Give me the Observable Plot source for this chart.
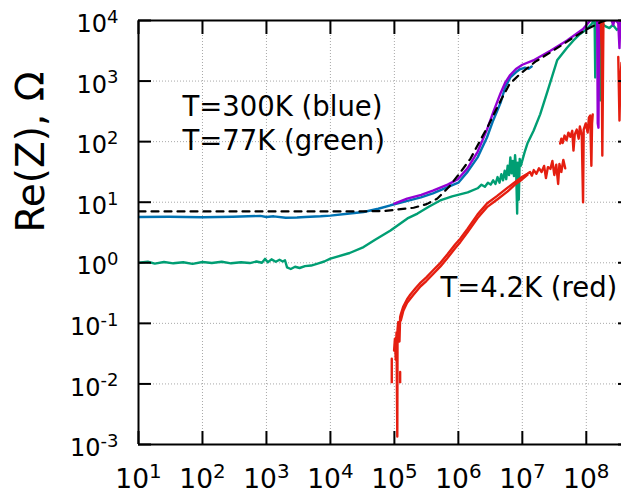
<!DOCTYPE html>
<html><head><meta charset="utf-8">
<script src="https://cdn.jsdelivr.net/npm/d3@7"></script>
<script src="https://cdn.jsdelivr.net/npm/@observablehq/plot@0.6"></script>
<style>html,body{margin:0;padding:0;overflow:hidden;background:#fff}</style>
</head><body><div id="chart"></div>
<script>
// ---- axis ticks & labels ----
const xTicks = [1e1, 1e2, 1e3, 1e4, 1e5, 1e6, 1e7, 1e8];
const xTickLabels = ["10^1", "10^2", "10^3", "10^4", "10^5", "10^6", "10^7", "10^8"];
const yTicks = [1e-3, 1e-2, 1e-1, 1e0, 1e1, 1e2, 1e3, 1e4];
const yTickLabels = ["10^-3", "10^-2", "10^-1", "10^0", "10^1", "10^2", "10^3", "10^4"];
const yTitle = "Re(Z), Ω";

// ---- annotations ----
const noteText = ["T=300K (blue)", "T=77K (green)", "T=4.2K (red)"];
const noteF = [48.7, 48.7, 5.25e5];
const noteR = [270, 71.6, 0.269];

// ---- T=300K (blue) ----
const blueF = [10, 30, 100, 300, 800, 1000, 1300, 2000, 3000, 4000, 7000, 1e4, 2e4, 3.3e4, 5.6e4, 8.7e4, 1.6e5, 2.6e5, 4e5, 6.8e5, 1e6, 1.4e6, 2e6, 2.8e6, 3.5e6, 4.6e6, 5.4e6, 6.5e6, 8e6, 9.3e6, 1.1e7, 1.25e7, 1.4e7];
const blueR = [5.7, 5.75, 5.65, 5.75, 5.95, 5.7, 5.85, 5.55, 5.6, 5.7, 5.85, 6.0, 6.5, 6.9, 7.8, 8.9, 10.5, 12, 14, 17.8, 21, 32, 55, 117, 224, 447, 794, 1150, 1410, 1580, 1660, 1600, 1740];

// ---- second room-temperature run (purple) ----
const purpleF = [1e5, 1.58e5, 2.63e5, 4e5, 6.8e5, 9.8e5, 1.38e6, 2e6, 2.8e6, 3.55e6, 4.57e6, 5.37e6, 6.46e6, 7.94e6, 1e7, 1.48e7, 2.75e7, 5e7, 8.9e7, 1.15e8, 1.26e8, 1.48e8, 1.51e8, 1.55e8, 1.58e8, 1.78e8, 2e8, 2.4e8, 2.63e8, 2.8e8, 3.16e8, 3.3e8, 3.4e8, 3.6e8];
const purpleR = [9.5, 11.5, 13.2, 15.5, 19.5, 24, 36, 68, 158, 316, 631, 933, 1260, 1585, 1860, 2190, 3160, 4680, 7240, 1e4, 1.1e4, 1.05e4, 200, 170, 9000, 1.2e4, 1.05e4, 1.1e4, 8500, 1.05e4, 9000, 3500, 9500, 1.1e4];

// ---- T=77K (green) ----
const greenF = [10, 14, 18, 25, 35, 50, 70, 100, 140, 200, 280, 400, 550, 700, 850, 950, 1050, 1200, 1400, 1600, 1800, 1950, 2100, 2400, 2800, 3300, 4000, 5000, 6500, 8000, 1e4, 2e4, 3.3e4, 5e4, 8.7e4, 1.6e5, 2.3e5, 3.5e5, 5.2e5, 8e5, 1.4e6, 2e6, 2.3e6, 2.6e6, 2.9e6, 3.2e6, 3.5e6, 3.8e6, 4.1e6, 4.4e6, 4.7e6, 5e6, 5.3e6, 5.6e6, 5.9e6, 6.2e6, 6.5e6, 6.8e6, 7.1e6, 7.4e6, 7.7e6, 8e6, 8.3e6, 8.5e6, 8.8e6, 9.1e6, 9.5e6, 1e7, 1.1e7, 1.2e7, 1.5e7, 1.9e7, 2.5e7, 3.5e7, 5e7, 6.3e7, 8e7, 1.05e8, 1.23e8, 1.3e8, 1.35e8, 1.38e8, 1.4e8, 1.55e8, 1.66e8, 1.7e8, 2e8, 2.3e8, 2.6e8, 3e8, 3.6e8];
const greenR = [1.0, 1.04, 0.97, 1.03, 0.98, 1.02, 0.96, 1.03, 0.99, 1.04, 0.98, 1.02, 0.99, 1.05, 1.0, 1.16, 1.02, 1.14, 1.04, 1.12, 1.05, 1.1, 0.84, 0.79, 0.86, 0.82, 0.88, 0.9, 0.98, 1.05, 1.17, 1.45, 1.82, 2.4, 3.4, 5.4, 6.5, 8.5, 10.7, 12.5, 14.5, 17, 19.5, 18, 21, 19.5, 23, 20, 26, 21, 29, 23, 33, 24, 40, 28, 55, 30, 48, 27, 60, 35, 6.5, 45, 11, 52, 40, 49, 70, 93, 151, 282, 700, 2200, 3550, 4680, 6000, 7400, 8900, 1.05e4, 9500, 1150, 9000, 9300, 480, 9200, 8000, 7500, 8500, 7000, 8000];

// ---- T=4.2K (red), several pieces ----
const redAF = [9.9e4, 1.02e5, 1.05e5, 1.08e5, 1.11e5, 1.12e5, 1.15e5, 1.2e5, 1.23e5, 1.26e5, 1.38e5, 1.58e5, 1.78e5, 2.14e5, 2.57e5, 3.16e5, 4.07e5, 5.25e5, 6.76e5, 8.9e5, 1.07e6, 1.38e6, 2e6, 2.8e6, 4e6, 5.9e6, 7.2e6, 1e7, 1.2e7, 1.32e7, 1.41e7, 1.51e7, 1.66e7, 1.82e7, 2e7, 2.19e7, 2.34e7, 2.51e7, 2.75e7, 2.95e7, 3.16e7, 3.39e7, 3.63e7, 3.8e7, 4.07e7, 4.37e7, 4.68e7];
const redAR = [0.0355, 0.056, 0.025, 0.071, 0.00135, 0.079, 0.105, 0.05, 0.126, 0.141, 0.19, 0.25, 0.30, 0.38, 0.47, 0.575, 0.76, 1.0, 1.38, 2.0, 2.5, 3.6, 6.3, 9.5, 12.6, 17.4, 20.4, 26.3, 29.5, 31.6, 27.5, 33.9, 29.5, 36.3, 31.6, 39.8, 25.1, 38, 35.5, 47.9, 28.2, 41.7, 20, 42.7, 31.6, 50, 36.3];
const redBF = [1.26e5, 1.38e5, 1.58e5, 2e5, 2.57e5, 3.16e5, 4.07e5, 5.25e5, 6.76e5, 8.9e5, 1.07e6, 1.38e6, 2e6, 2.8e6, 4e6, 5.9e6, 7.9e6, 1e7, 1.2e7];
const redBR = [0.112, 0.162, 0.219, 0.30, 0.41, 0.50, 0.66, 0.87, 1.2, 1.74, 2.19, 3.16, 5.5, 8.3, 11, 15.1, 20, 24, 28.2];
const redStub1F = [9.1e4, 9.1e4];
const redStub1R = [0.026, 0.0107];
const redStub2F = [1.23e5, 1.23e5];
const redStub2R = [0.0158, 0.0107];
const redCF = [3.9e7, 4.07e7, 4.27e7, 4.57e7, 4.9e7, 5.25e7, 5.62e7, 6.03e7, 6.3e7, 6.6e7, 7.08e7, 7.6e7, 7.94e7, 8.5e7, 8.9e7, 9.1e7, 9.8e7, 1.05e8, 1.1e8, 1.15e8, 1.2e8, 1.23e8, 1.26e8];
const redCR = [93, 112, 95, 126, 105, 141, 120, 151, 71, 132, 158, 112, 178, 126, 10, 158, 200, 141, 251, 269, 40, 200, 282];
const redDF = [1.66e8, 1.74e8, 1.78e8, 1.82e8, 1.86e8];
const redDR = [1.6e4, 3160, 59, 1000, 1.6e4];
const redEF = [3.16e8, 3.3e8, 3.4e8, 3.55e8];
const redER = [2500, 224, 1000, 2000];

// ---- model (dashed black) ----
const modelF = [10, 3e4, 6.8e4, 1.6e5, 2e5, 3.2e5, 4.7e5, 7.1e5, 1.07e6, 1.55e6, 2.2e6, 2.95e6, 4.6e6, 6.3e6, 9.3e6, 1.6e7, 3e7, 6.3e7, 1e8, 1.66e8, 2e8];
const modelR = [7.05, 7.05, 7.15, 7.9, 8.1, 9.3, 11.5, 17.8, 31, 52.5, 105, 186, 479, 890, 1320, 2090, 3160, 5250, 7080, 9330, 1e4];

const BLUE = "#0072b2", PURPLE = "#9400d3", GREEN = "#009e73", RED = "#e51e10";

const pts = (F, R) => F.map((f, i) => ({f, r: R[i]}));
const curve = (F, R, stroke, extra = {}) =>
  Plot.line(pts(F, R), {x: "f", y: "r", stroke, strokeWidth: 2.4, clip: true, ...extra});

const xLab = new Map(xTicks.map((t, i) => [t, xTickLabels[i]]));
const yLab = new Map(yTicks.map((t, i) => [t, yTickLabels[i]]));

const chart = Plot.plot({
  width: 621, height: 496,
  marginLeft: 138, marginRight: 0, marginTop: 20, marginBottom: 52,
  x: {type: "log", domain: [10, 3.55e8]},
  y: {type: "log", domain: [1e-3, 1e4]},
  style: {fontFamily: "DejaVu Sans", background: "white", color: "black"},
  marks: [
    Plot.gridX(xTicks, {stroke: "#a8a8a8", strokeOpacity: 1, strokeWidth: 1, strokeDasharray: "1,2"}),
    Plot.gridY(yTicks, {stroke: "#a8a8a8", strokeOpacity: 1, strokeWidth: 1, strokeDasharray: "1,2"}),
    curve(greenF, greenR, GREEN),
    curve(blueF, blueR, BLUE),
    curve(purpleF, purpleR, PURPLE),
    curve(redAF, redAR, RED),
    curve(redBF, redBR, RED),
    curve(redStub1F, redStub1R, RED),
    curve(redStub2F, redStub2R, RED),
    curve(redCF, redCR, RED),
    curve(redDF, redDR, RED),
    curve(redEF, redER, RED),
    curve(modelF, modelR, "black", {strokeDasharray: "7,6", strokeWidth: 2.2}),
    Plot.text(noteText.map((t, i) => ({t, f: noteF[i], r: noteR[i]})),
      {x: "f", y: "r", text: "t", textAnchor: "start", lineAnchor: "bottom", fontSize: 27.5, fill: "black"}),
    Plot.text([yTitle], {frameAnchor: "left", dx: -107, rotate: -90, fontSize: 39, fill: "black"}),
    // frame (left, top, bottom)
    Plot.ruleX([10], {stroke: "black", strokeWidth: 2}),
    Plot.ruleY([1e-3, 1e4], {stroke: "black", strokeWidth: 2}),
    // inward ticks on all sides
    Plot.axisX(xTicks, {anchor: "bottom", tickSize: 13, dy: -13, fill: "none", label: null, strokeWidth: 2}),
    Plot.axisX(xTicks, {anchor: "top", tickSize: 13, dy: 13, fill: "none", label: null, strokeWidth: 2}),
    Plot.axisY(yTicks, {anchor: "left", tickSize: 13, dx: 13, fill: "none", label: null, strokeWidth: 2}),
    Plot.axisY(yTicks, {anchor: "right", tickSize: 13, dx: -4, fill: "none", label: null, strokeWidth: 2}),
    // tick labels
    Plot.axisX(xTicks, {anchor: "bottom", tickSize: 0, tickPadding: 25, fontSize: 26.5, label: null,
      tickFormat: d => xLab.get(d), fill: "black"}),
    Plot.axisY(yTicks, {anchor: "left", tickSize: 0, tickPadding: 20, fontSize: 24, dy: 4, label: null,
      tickFormat: d => yLab.get(d), fill: "black"})
  ]
});

// turn "10^n" labels into 10 with a raised exponent
const svgNS = "http://www.w3.org/2000/svg";
chart.querySelectorAll('g[aria-label="x-axis tick label"] text, g[aria-label="y-axis tick label"] text').forEach(t => {
  const parts = t.textContent.split("^");
  if (parts.length !== 2) return;
  t.textContent = parts[0];
  const sup = document.createElementNS(svgNS, "tspan");
  sup.setAttribute("font-size", "0.75em");
  sup.setAttribute("dy", "-0.52em");
  sup.textContent = parts[1];
  t.appendChild(sup);
});

document.getElementById("chart").append(chart);
</script></body></html>
